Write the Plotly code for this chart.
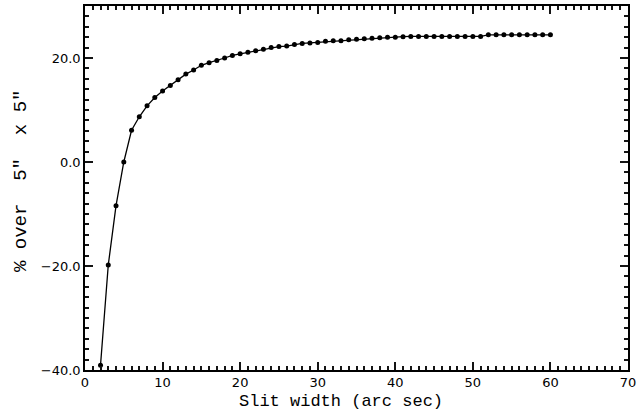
import plotly.graph_objects as go

slit_width = list(range(2, 61))
percent_over = [
    -39.1, -19.8, -8.4, 0.0, 6.1, 8.7, 10.8, 12.4, 13.65, 14.7,
    15.8, 16.9, 17.7, 18.6, 19.1, 19.5, 20.0, 20.5, 20.8, 21.1,
    21.4, 21.7, 22.0, 22.2, 22.3, 22.6, 22.8, 22.9, 23.0, 23.2,
    23.3, 23.3, 23.5, 23.6, 23.7, 23.8, 23.9, 24.0, 24.0, 24.1,
    24.15, 24.15, 24.15, 24.15, 24.15, 24.15, 24.15, 24.15, 24.15, 24.15,
    24.45, 24.45, 24.45, 24.45, 24.45, 24.45, 24.45, 24.45, 24.45,
]
x_ticks = [0, 10, 20, 30, 40, 50, 60, 70]
y_ticks = [-40, -20, 0, 20]
x_title = "Slit width (arc sec)"
y_title = "% over  5\"  x 5\""

fig = go.Figure()
fig.add_trace(go.Scatter(
    x=slit_width, y=percent_over, mode="lines+markers",
    line=dict(color="black", width=1.3),
    marker=dict(color="black", size=5),
    showlegend=False,
))

tickfont = dict(family="DejaVu Sans", size=13, color="black")

fig.update_layout(
    width=640, height=414,
    margin=dict(l=85, r=12, t=6, b=44, autoexpand=False),
    paper_bgcolor="white", plot_bgcolor="rgba(0,0,0,0)",
    xaxis=dict(
        range=[0, 70], tickmode="array", tickvals=x_ticks,
        ticks="inside", ticklen=8, tickwidth=2, tickcolor="rgb(20,20,20)",
        minor=dict(dtick=1, tick0=0, ticks="inside", ticklen=4, tickwidth=1.5, tickcolor="rgb(20,20,20)"),
        showline=True, linecolor="black", linewidth=1.5, mirror="allticks",
        showgrid=False, zeroline=False, tickfont=tickfont, automargin=False,
    ),
    yaxis=dict(
        range=[-40, 30], tickmode="array", tickvals=y_ticks,
        ticktext=[f"{v:.1f}".replace("-", "\u2212") for v in y_ticks],
        ticks="inside", ticklen=8, tickwidth=2, tickcolor="rgb(20,20,20)",
        minor=dict(dtick=2, tick0=0, ticks="inside", ticklen=4, tickwidth=1.5, tickcolor="rgb(20,20,20)"),
        showline=True, linecolor="black", linewidth=1.5, mirror="allticks",
        showgrid=False, zeroline=False, tickfont=tickfont, automargin=False,
    ),
    annotations=[
        dict(text=x_title, xref="paper", yref="paper", x=(341 - 85) / 543, y=-(402 - 370) / 364,
             xanchor="center", yanchor="middle", showarrow=False,
             font=dict(family="Liberation Mono", size=17, color="black")),
        dict(text=y_title, xref="paper", yref="paper", x=-(85 - 21) / 543, y=(370 - 181) / 364,
             xanchor="center", yanchor="middle", showarrow=False, textangle=-90,
             font=dict(family="Liberation Mono", size=19, color="black")),
    ],
)

fig.write_html("out.html")
